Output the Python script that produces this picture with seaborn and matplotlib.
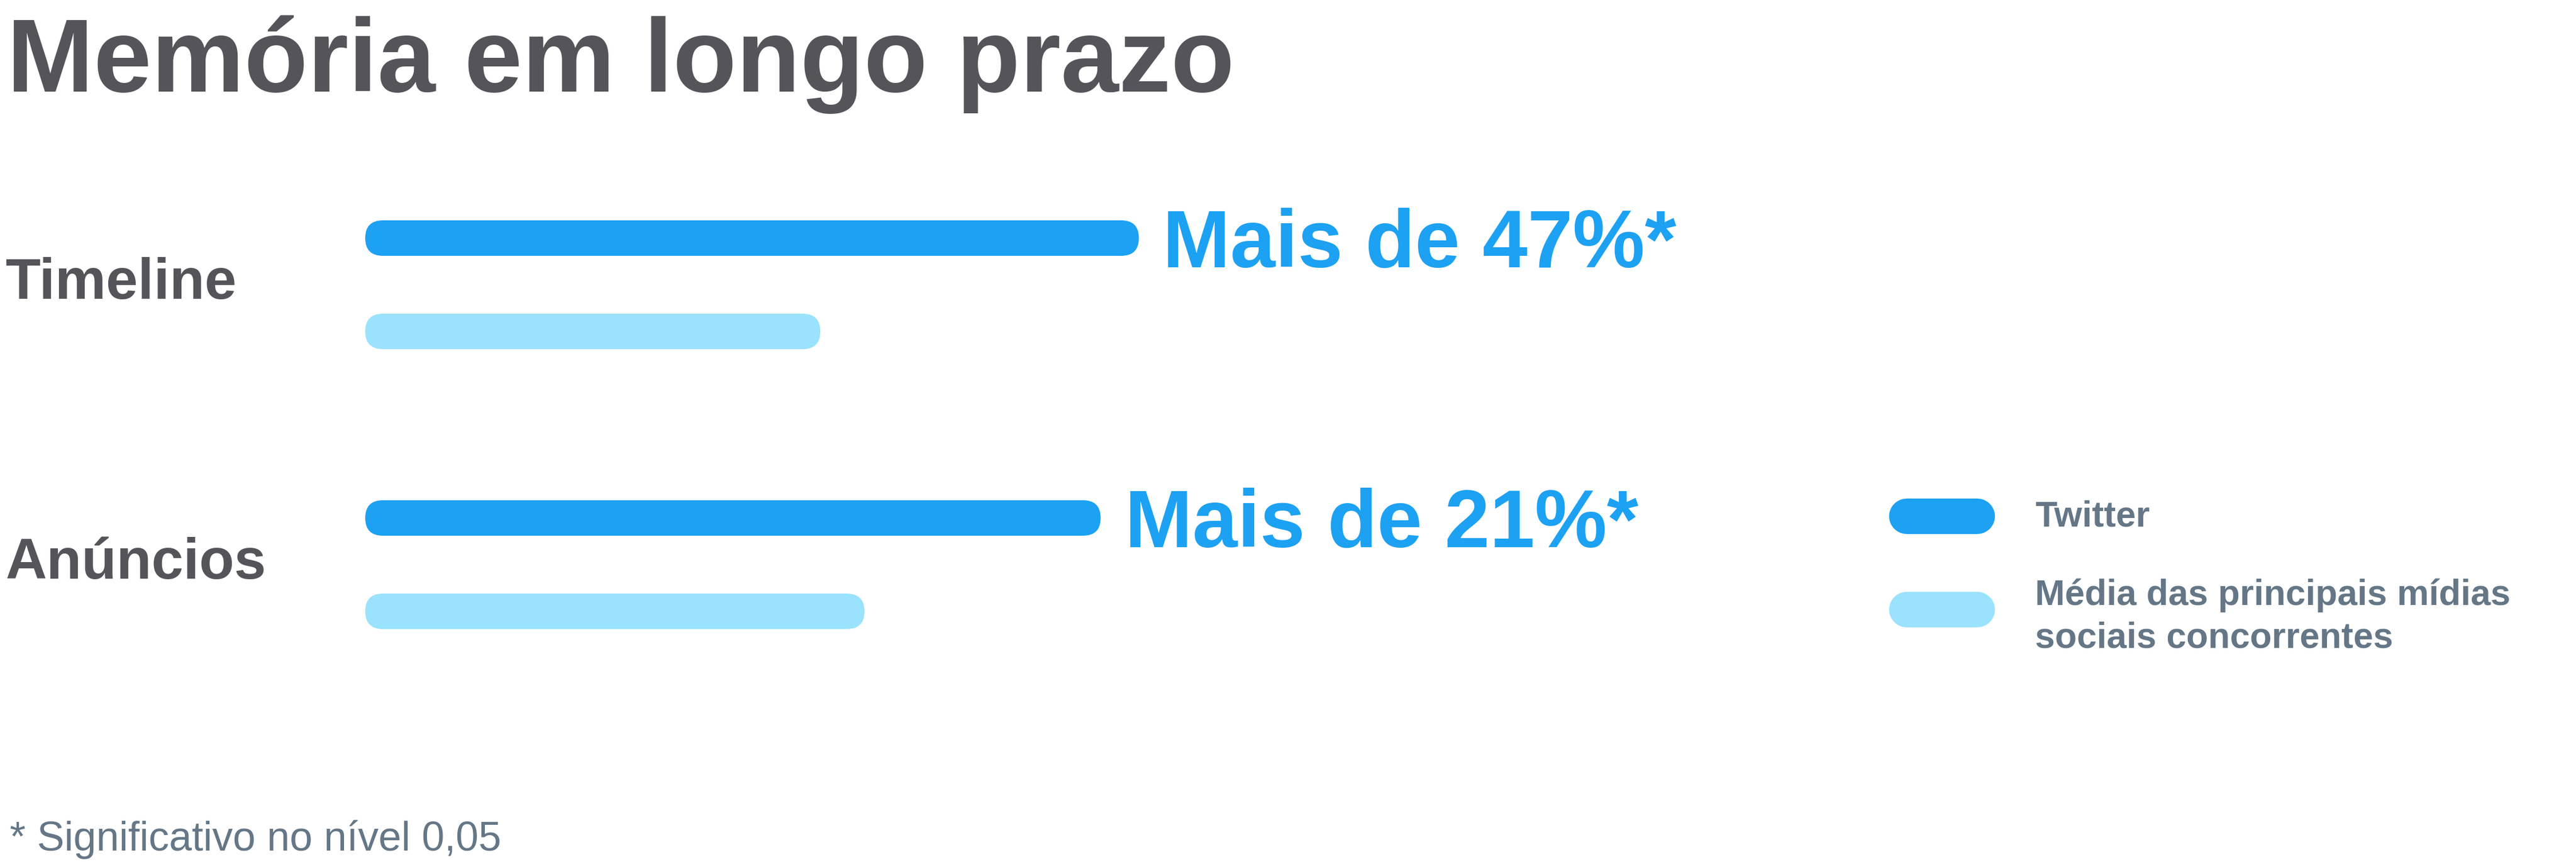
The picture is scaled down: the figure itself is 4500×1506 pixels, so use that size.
import numpy as np
import pandas as pd
import matplotlib
matplotlib.use("Agg")
import matplotlib.pyplot as plt
import seaborn as sns
from matplotlib.patches import FancyBboxPatch
from matplotlib.lines import Line2D

# ---------------- data ----------------
categories = ["Timeline", "Anúncios"]
series = ["Twitter", "Média das principais mídias\nsociais concorrentes"]
twitter_values = [170, 161.6]
competitor_values = [100, 109.7]
bar_labels = ["Mais de 47%*", "Mais de 21%*"]
title = "Memória em longo prazo"
footnote = "* Significativo no nível 0,05"

# ---------------- layout / style ----------------
W, H, DPI = 4500, 1506, 100
TWITTER = "#1DA1F2"
LIGHT = "#9AE2FD"
DARK = "#54545a"
SLATE = "#657786"

X0_PX = 638.0          # pixel where value 0 sits
PX_PER_UNIT = 7.95     # pixels per value unit
CAT0_PX = 497.5        # pixel (from top) of first category centre
PX_PER_CAT = 489.0     # pixels between categories
BAR_PX = 62.0          # bar thickness in pixels
GROUP_W = 0.667

sns.set_theme(style="white")
plt.rcParams["font.family"] = ["Liberation Sans", "DejaVu Sans"]

df = pd.DataFrame({
    "category": categories * 2,
    "series": [series[0]] * len(categories) + [series[1]] * len(categories),
    "value": twitter_values + competitor_values,
})

fig = plt.figure(figsize=(W / DPI, H / DPI), dpi=DPI)
ax = fig.add_axes([0, 0, 1, 1])
palette = {series[0]: TWITTER, series[1]: LIGHT}
sns.barplot(data=df, y="category", x="value", hue="series", hue_order=series,
            order=categories, palette=palette, width=GROUP_W, orient="h",
            legend=False, saturation=1, errorbar=None, ax=ax)

ax.set_xlim(-X0_PX / PX_PER_UNIT, (W - X0_PX) / PX_PER_UNIT)
ax.set_ylim((H - CAT0_PX) / PX_PER_CAT, -CAT0_PX / PX_PER_CAT)
ax.axis("off")

# replace rectangles by rounded (pill) bars
bar_h = BAR_PX / PX_PER_CAT
r_x = (BAR_PX / 2) / PX_PER_UNIT
aspect = PX_PER_UNIT / PX_PER_CAT
for p in list(ax.patches):
    x, y, w, h = p.get_x(), p.get_y(), p.get_width(), p.get_height()
    yc = y + h / 2
    fb = FancyBboxPatch((x, yc - bar_h / 2), w, bar_h,
                        boxstyle=f"round,pad=0,rounding_size={r_x}",
                        mutation_aspect=aspect, fc=p.get_facecolor(), ec="none")
    p.remove()
    ax.add_patch(fb)

# value labels next to Twitter bars
for i, (v, lab) in enumerate(zip(twitter_values, bar_labels)):
    ax.annotate(lab, xy=(v, i - GROUP_W / 4), xytext=(42, -51),
                textcoords="offset pixels", ha="left", va="baseline",
                fontsize=102, fontweight="bold", color=TWITTER)

# category labels
for i, cat in enumerate(categories):
    ax.annotate(cat, xy=(10 / W, i), xycoords=("figure fraction", "data"),
                xytext=(0, -24), textcoords="offset pixels",
                ha="left", va="baseline", fontsize=72, fontweight="bold",
                color=DARK)

# title & footnote
fig.text(12 / W, 1 - 160 / H, title, ha="left", va="baseline",
         fontsize=131, fontweight="bold", color=DARK)
fig.text(17 / W, 1 - 1486 / H, footnote, ha="left", va="baseline",
         fontsize=51.5, color=SLATE)

# legend
lw_pt = BAR_PX * 72 / DPI
leg_y = [902, 1065]
for yy, col in zip(leg_y, [TWITTER, LIGHT]):
    fig.add_artist(Line2D([3331 / W, 3454 / W], [1 - yy / H, 1 - yy / H],
                          transform=fig.transFigure, lw=lw_pt, color=col,
                          solid_capstyle="round"))
fig.text(3555 / W, 1 - 920 / H, series[0], ha="left", va="baseline",
         fontsize=45, fontweight="bold", color=SLATE)
for k, line in enumerate(series[1].split("\n")):
    fig.text(3555 / W, 1 - (1057 + 75 * k) / H, line, ha="left", va="baseline",
             fontsize=45, fontweight="bold", color=SLATE)

fig.savefig("out.png", dpi=DPI)
